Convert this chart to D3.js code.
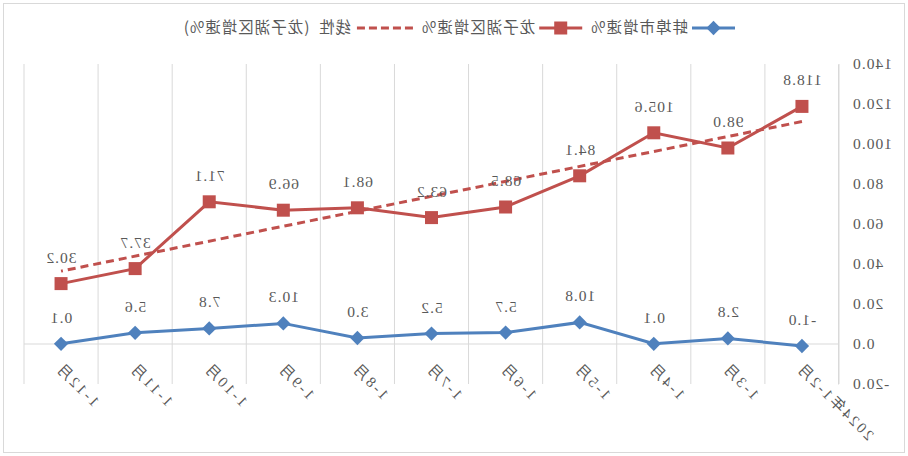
<!DOCTYPE html>
<html>
<head>
<meta charset="utf-8">
<script src="https://cdn.jsdelivr.net/npm/d3@7"></script>
<style>
  html, body { margin: 0; padding: 0; background: #fff; }
  text { font-family: "Liberation Serif", "Noto Sans CJK SC", serif; }
</style>
</head>
<body>
<div id="chart"></div>
<script>
// categories (月份)
const months = ['2024年1-2月', '1-3月', '1-4月', '1-5月', '1-6月', '1-7月', '1-8月', '1-9月', '1-10月', '1-11月', '1-12月'];
// 蚌埠市增速%
const bengbu = [-1.0, 2.8, 0.1, 10.8, 5.7, 5.2, 3.0, 10.3, 7.8, 5.6, 0.1];
// 龙子湖区增速%
const longzihu = [118.8, 98.0, 105.6, 84.1, 68.5, 63.2, 68.1, 66.9, 71.1, 37.7, 30.2];
// y axis ticks
const yTicks = [-20, 0, 20, 40, 60, 80, 100, 120, 140];
const seriesNames = ['蚌埠市增速%', '龙子湖区增速%', '线性 (龙子湖区增速%)'];

const width = 908;
const height = 456;
const blue = '#4f81bd';
const red = '#c0504d';
const grid = '#d9d9d9';
const txt = '#595959';
const fmt = v => v.toFixed(1);

const svg = d3.select('#chart').append('svg')
  .attr('width', width)
  .attr('height', height);

// the reference is a mirror image, so everything is drawn normally then flipped
const g = svg.append('g')
  .attr('transform', `translate(${width},0) scale(-1,1)`);

// outer border
g.append('rect')
  .attr('x', 3.5).attr('y', 3.5)
  .attr('width', width - 7).attr('height', height - 7)
  .attr('fill', 'none')
  .attr('stroke', grid);

const x = d3.scaleBand().domain(months).range([69, 884]);
const y = d3.scaleLinear().domain([-20, 140]).range([384, 64]);
const cx = d => x(d) + x.bandwidth() / 2;

// vertical gridlines at category boundaries
const bounds = months.map(m => x(m)).concat([x.range()[1]]);
g.selectAll('.vgrid')
  .data(bounds)
  .enter().append('line')
  .attr('x1', d => d).attr('x2', d => d)
  .attr('y1', y(140)).attr('y2', y(-20))
  .attr('stroke', grid).attr('stroke-width', 1);

// zero line (category axis)
g.append('line')
  .attr('x1', x.range()[0]).attr('x2', x.range()[1])
  .attr('y1', y(0)).attr('y2', y(0))
  .attr('stroke', grid).attr('stroke-width', 1);

// y axis
const yAxis = g.append('g')
  .attr('transform', `translate(${x.range()[0]},0)`)
  .call(d3.axisLeft(y).tickValues(yTicks).tickFormat(fmt).tickSize(0).tickPadding(13));
yAxis.select('.domain').attr('stroke', grid);
yAxis.selectAll('text')
  .attr('fill', txt)
  .style('font-size', '15.5px')
  .style('letter-spacing', '1px')
  .style('font-family', '"Liberation Serif", serif');

// category labels rotated
g.selectAll('.xlab')
  .data(months)
  .enter().append('text')
  .attr('transform', d => `translate(${cx(d) + 3},${y(-20) - 19}) rotate(-45)`)
  .attr('text-anchor', 'end')
  .attr('dy', '0.35em')
  .attr('fill', txt)
  .style('font-size', '15px')
  .style('letter-spacing', '2.5px')
  .text(d => d);

// linear trendline for 龙子湖区
const n = longzihu.length;
const xs = d3.range(1, n + 1);
const mx = d3.mean(xs);
const my = d3.mean(longzihu);
const slope = d3.sum(xs, (v, i) => (v - mx) * (longzihu[i] - my)) / d3.sum(xs, v => (v - mx) * (v - mx));
const icept = my - slope * mx;

g.append('line')
  .attr('x1', cx(months[0])).attr('y1', y(icept + slope * 1))
  .attr('x2', cx(months[n - 1])).attr('y2', y(icept + slope * n))
  .attr('stroke', red)
  .attr('stroke-width', 3)
  .attr('stroke-dasharray', '8,5');

const line = d3.line().x((d, i) => cx(months[i])).y(d => y(d));

// 龙子湖区 line + squares
g.append('path')
  .datum(longzihu)
  .attr('d', line)
  .attr('fill', 'none')
  .attr('stroke', red)
  .attr('stroke-width', 3);

g.selectAll('.sq')
  .data(longzihu)
  .enter().append('rect')
  .attr('x', (d, i) => cx(months[i]) - 6.5)
  .attr('y', d => y(d) - 6.5)
  .attr('width', 13).attr('height', 13)
  .attr('fill', red);

// 蚌埠市 line + diamonds
g.append('path')
  .datum(bengbu)
  .attr('d', line)
  .attr('fill', 'none')
  .attr('stroke', blue)
  .attr('stroke-width', 3);

const diamond = d3.symbol().type(d3.symbolDiamond2).size(130);
g.selectAll('.dm')
  .data(bengbu)
  .enter().append('path')
  .attr('d', diamond)
  .attr('transform', (d, i) => `translate(${cx(months[i])},${y(d)})`)
  .attr('fill', blue);

// data labels
const addLabels = (vals) => {
  g.selectAll(null)
    .data(vals)
    .enter().append('text')
    .attr('x', (d, i) => cx(months[i]))
    .attr('y', d => y(d) - 21)
    .attr('text-anchor', 'middle')
    .attr('fill', txt)
    .style('font-size', '15.5px')
    .style('letter-spacing', '1px')
    .text(d => fmt(d));
};
addLabels(longzihu);
addLabels(bengbu);

// legend, laid out left to right (before the flip)
const ly = 28;
const lg = g.append('g');
let lx = 173;
seriesNames.forEach((name, i) => {
  const symW = i === 2 ? 58 : 43;
  const col = i === 0 ? blue : red;
  lg.append('line')
    .attr('x1', lx).attr('x2', lx + symW)
    .attr('y1', ly).attr('y2', ly)
    .attr('stroke', col).attr('stroke-width', 3)
    .attr('stroke-dasharray', i === 2 ? '8,4' : null);
  if (i === 0) {
    lg.append('path').attr('d', diamond)
      .attr('transform', `translate(${lx + symW / 2},${ly})`).attr('fill', blue);
  } else if (i === 1) {
    lg.append('rect').attr('x', lx + symW / 2 - 6.5).attr('y', ly - 6.5)
      .attr('width', 13).attr('height', 13).attr('fill', red);
  }
  const t = lg.append('text')
    .attr('x', lx + symW + 4).attr('y', ly).attr('dy', '0.35em')
    .attr('fill', txt)
    .style('font-size', '15.5px')
    .style('font-family', '"Noto Sans CJK SC", sans-serif')
    .style('letter-spacing', '1px')
    .style('word-spacing', '4px')
    .text(name);
  lx += symW + 4 + t.node().getComputedTextLength() + 8;
});
</script>
</body>
</html>
